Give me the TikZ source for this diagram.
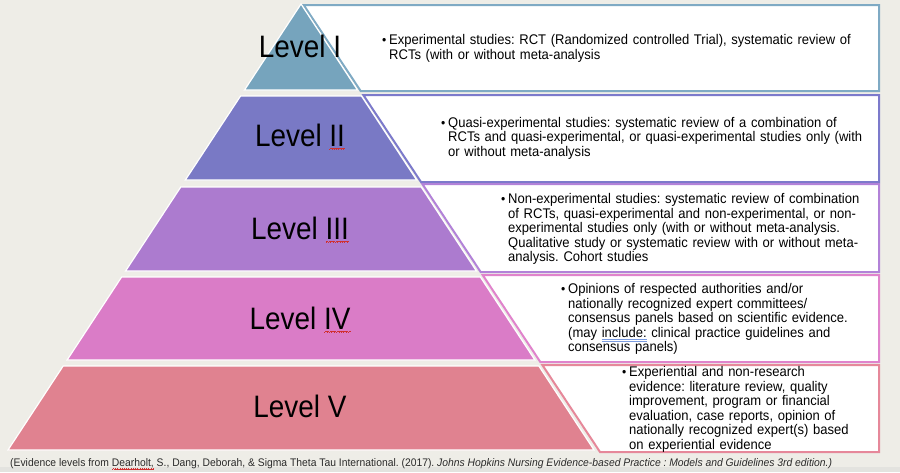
\documentclass[tikz,border=0pt]{standalone}
\usepackage{fontspec}
\setmainfont{Liberation Sans}
\newfontfamily\boxfont[FakeStretch=0.93]{Liberation Sans}
\newfontfamily\footfont[FakeStretch=0.94]{Liberation Sans}
\newfontfamily\lvfont[FakeStretch=0.9]{Liberation Sans}
\definecolor{bgcol}{HTML}{EEEDE7}
\definecolor{bandcol}{HTML}{E3E3DF}
\definecolor{fillA}{HTML}{76A4BD}
\definecolor{fillB}{HTML}{7979C5}
\definecolor{fillC}{HTML}{AC7BCF}
\definecolor{fillD}{HTML}{DA7CC7}
\definecolor{fillE}{HTML}{E08290}
\definecolor{lineA}{HTML}{7FAAC4}
\definecolor{lineB}{HTML}{7C7ACB}
\definecolor{lineC}{HTML}{B282D8}
\definecolor{lineD}{HTML}{E083CC}
\definecolor{lineE}{HTML}{E6889A}
\definecolor{waveRed}{HTML}{D03030}
\definecolor{ulBlue}{HTML}{7A9BE0}
\definecolor{footCol}{HTML}{2A2A2A}
\newsavebox\rwtmp
\newcommand\wavepiece{\hbox{\rule[0pt]{0.55pt}{0.6pt}\rule[0.45pt]{0.55pt}{0.6pt}\rule[0.9pt]{0.55pt}{0.6pt}\rule[0.45pt]{0.55pt}{0.6pt}}}
\newcommand\redwave[1]{\sbox\rwtmp{#1}\rlap{\color{waveRed}\lower3.4pt\hbox to\wd\rwtmp{\xleaders\wavepiece\hfil}}\usebox\rwtmp}
\newcommand\blueuline[1]{\sbox\rwtmp{#1}\rlap{\color{ulBlue}\rule[-2.6pt]{\wd\rwtmp}{0.6pt}}\rlap{\color{ulBlue}\rule[-4.3pt]{\wd\rwtmp}{0.6pt}}\usebox\rwtmp}
\newcommand\pyrlayer[3]{\fill[#3, draw=white, line width=1.2pt] ({301-0.657*(#1-4)},#1) -- ({301+0.657*(#1-4)},#1) -- ({301+0.657*(#2-4)},#2) -- ({301-0.657*(#2-4)},#2) -- cycle;}
\newcommand\evbox[3]{\filldraw[fill=white, draw=#3, line width=2pt, line join=miter] ({303+0.663*(#1-4)},#1) -- (879,#1) -- (879,#2) -- ({303+0.663*(#2-4)},#2) -- cycle;}
\begin{document}
\frenchspacing
\begin{tikzpicture}[x=1pt,y=-1pt,
  lvl/.style={font=\lvfont\fontsize{31}{31}\selectfont, anchor=base, inner sep=0pt, text=black},
  bul/.style={font=\boxfont\fontsize{13}{14.5}\selectfont, anchor=base west, inner sep=0pt},
  txt/.style={font=\boxfont\fontsize{14}{14.5}\selectfont\frenchspacing, anchor=base west, inner sep=0pt, text width=480pt, align=left},
  foot/.style={font=\footfont\fontsize{11}{12}\selectfont\frenchspacing, anchor=base west, inner sep=0pt, text=footCol}]
\useasboundingbox (0,0) rectangle (900,472);
\fill[bgcol] (0,0) rectangle (900,472);
\fill[bandcol] (0,467) rectangle (900,472);
% evidence boxes
\evbox{5}{91}{lineA}
\evbox{95}{182}{lineB}
\evbox{184}{272}{lineC}
\evbox{275}{362}{lineD}
\evbox{365}{452}{lineE}
% pyramid layers
\pyrlayer{4}{90}{fillA}
\pyrlayer{96}{180}{fillB}
\pyrlayer{187}{271}{fillC}
\pyrlayer{277}{360}{fillD}
\pyrlayer{366}{450}{fillE}
% level labels
\node[lvl] (l1) at (300,57) {Level I};
\node[lvl] (l2) at (300,146) {Level \redwave{II}};
\node[lvl] (l3) at (300,239) {Level \redwave{III}};
\node[lvl] (l4) at (300,329) {Level \redwave{IV}};
\node[lvl] (l5) at (300,417) {Level V};
% bullets
\node[bul] (b1) at (382,44.5) {•};
\node[bul] (b2) at (441,127) {•};
\node[bul] (b3) at (501,203.5) {•};
\node[bul] (b4) at (561,293.5) {•};
\node[bul] (b5) at (622,376.5) {•};
% texts
\node[txt] (t1) at (389,44.5) {Experimental studies: RCT (Randomized controlled Trial), systematic review of\\RCTs (with or without meta-analysis};
\node[txt] (t2) at (448,127) {Quasi-experimental studies: systematic review of a combination of\\RCTs and quasi-experimental, or quasi-experimental studies only (with\\or without meta-analysis};
\node[txt] (t3) at (508,203.5) {Non-experimental studies: systematic review of combination\\of RCTs, quasi-experimental and non-experimental, or non-\\experimental studies only (with or without meta-analysis.\\Qualitative study or systematic review with or without meta-\\analysis. Cohort studies};
\node[txt] (t4) at (568,293.5) {Opinions of respected authorities and/or\\nationally recognized expert committees/\\consensus panels based on scientific evidence.\\(may \blueuline{include:} clinical practice guidelines and\\consensus panels)};
\node[txt] (t5) at (629,376.5) {Experiential and non-research\\evidence: literature review, quality\\improvement, program or financial\\evaluation, case reports, opinion of\\nationally recognized expert(s) based\\on experiential evidence};
% footer
\node[foot] (ft) at (10,466.5) {(Evidence levels from \redwave{Dearholt,} S., Dang, Deborah, \& Sigma Theta Tau International. (2017). \textit{Johns Hopkins Nursing Evidence-based Practice : Models and Guidelines 3rd edition.)}};
\end{tikzpicture}
\end{document}
